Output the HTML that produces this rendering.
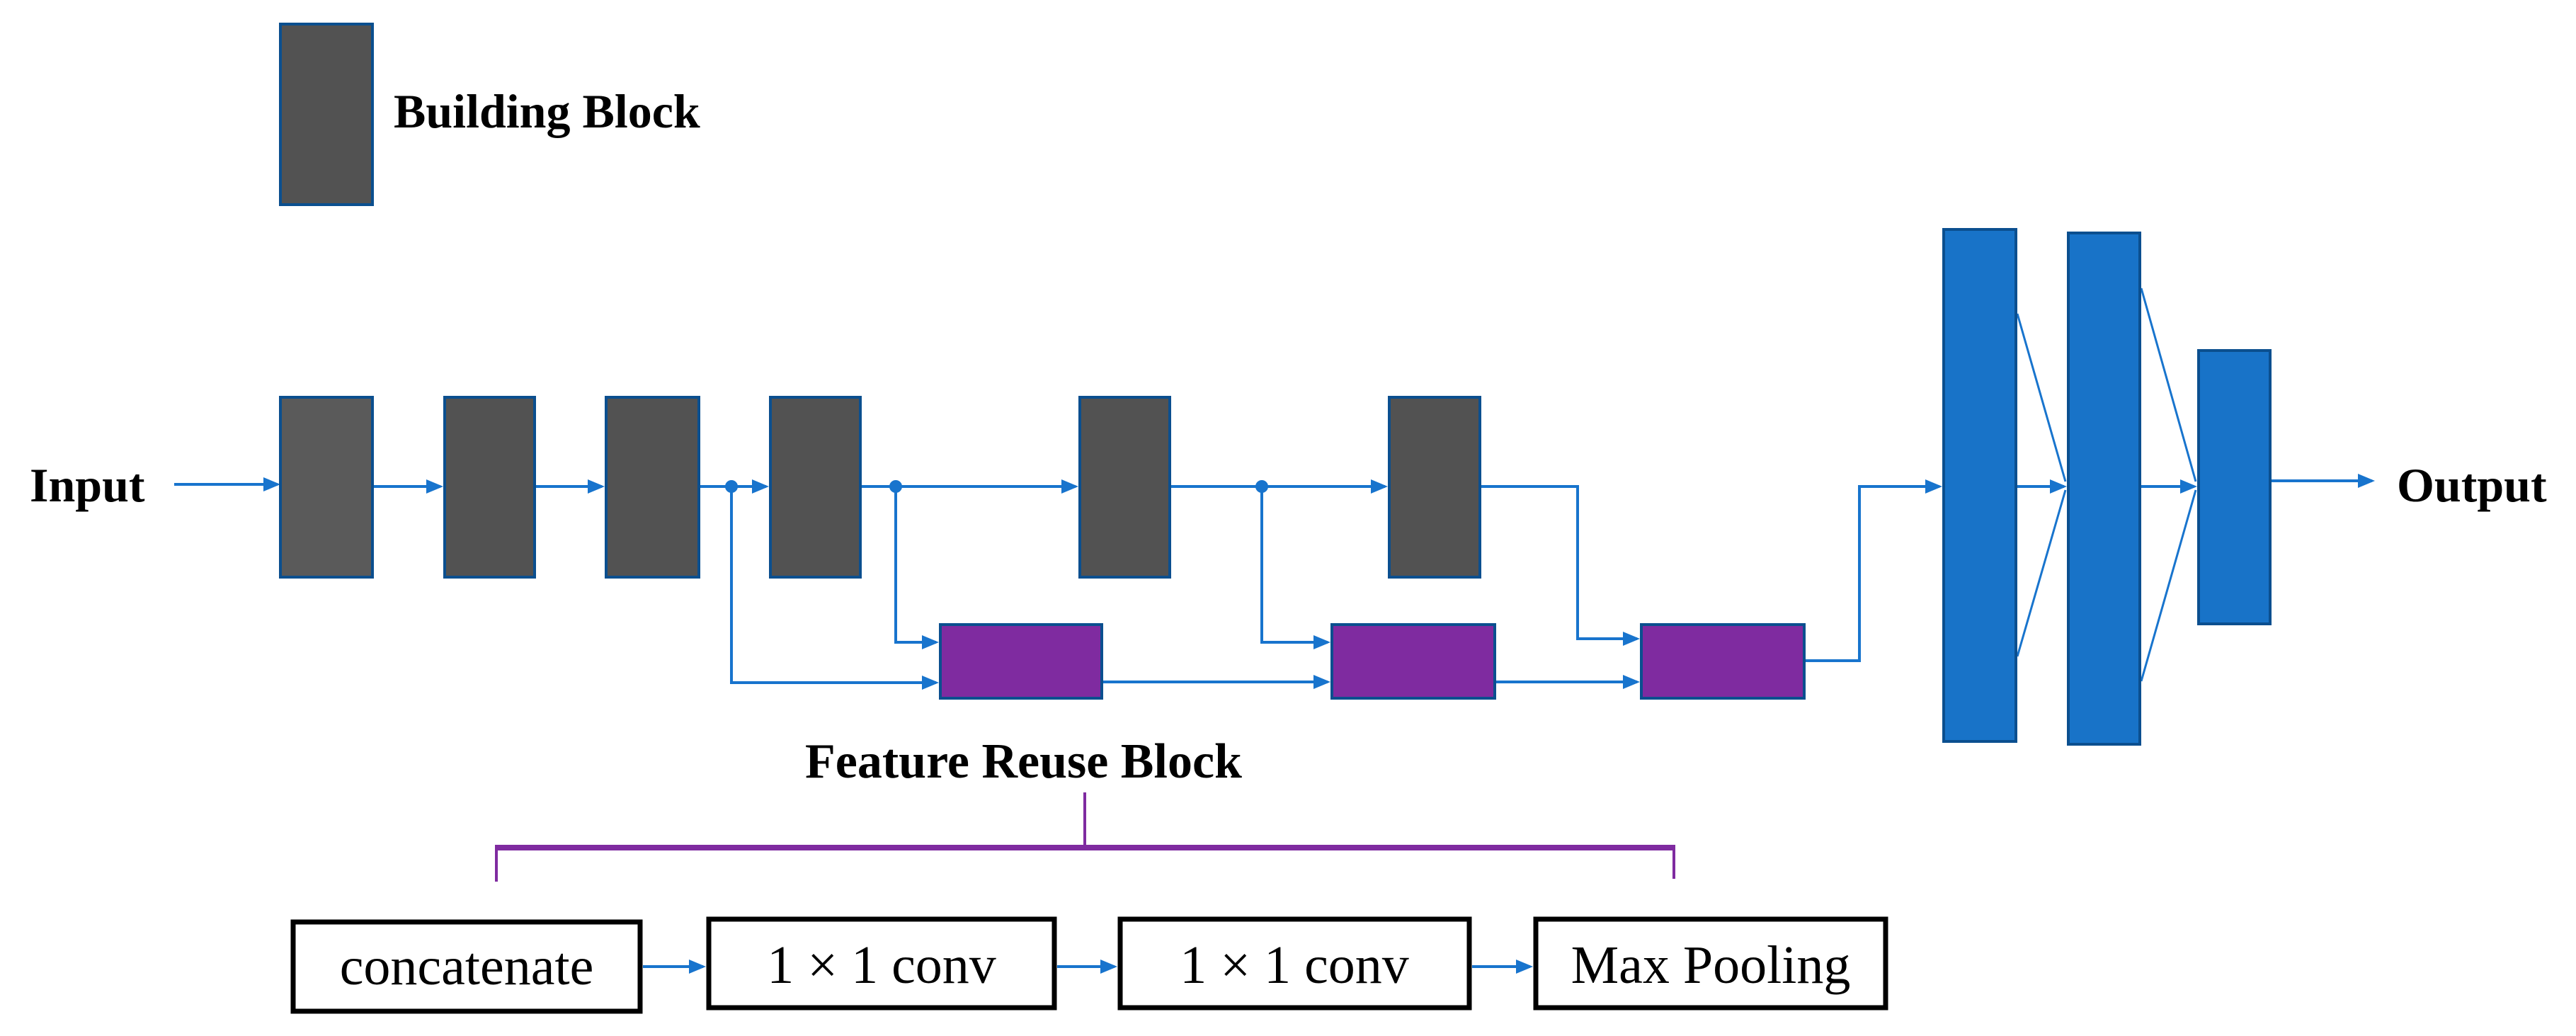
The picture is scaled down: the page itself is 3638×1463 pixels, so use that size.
<!DOCTYPE html>
<html><head><meta charset="utf-8"><style>
html,body{margin:0;padding:0;background:#fff;}
svg{display:block;}
text{font-family:"Liberation Serif",serif;fill:#000;}
</style></head><body>
<svg width="3638" height="1463" viewBox="0 0 3638 1463" xmlns="http://www.w3.org/2000/svg">
<defs>
<marker id="a" markerWidth="6" markerHeight="6" refX="5" refY="3" orient="auto" markerUnits="strokeWidth">
<path d="M0,0.5 L6,3 L0,5.5 z" fill="#1874cd"/></marker>
</defs>
<rect x="396" y="34" width="130" height="255" fill="#525252" stroke="#0b4f8f" stroke-width="4"/>
<text x="556" y="180" font-size="68" font-weight="bold">Building Block</text>

<text x="42" y="708" font-size="68" font-weight="bold">Input</text>
<text x="3385" y="708" font-size="68" font-weight="bold">Output</text>

<g stroke="#1874cd" stroke-width="4" fill="none">
<line x1="246" y1="684" x2="392" y2="684" marker-end="url(#a)"/>
<line x1="528" y1="687" x2="622" y2="687" marker-end="url(#a)"/>
<line x1="755" y1="687" x2="850" y2="687" marker-end="url(#a)"/>
<line x1="987" y1="687" x2="1082" y2="687" marker-end="url(#a)"/>
<line x1="1215" y1="687" x2="1519" y2="687" marker-end="url(#a)"/>
<line x1="1652" y1="687" x2="1956" y2="687" marker-end="url(#a)"/>
<polyline points="2090,687 2228,687 2228,902 2312,902" marker-end="url(#a)"/>
<polyline points="1033,687 1033,964 1322,964" marker-end="url(#a)"/>
<polyline points="1265,687 1265,907 1322,907" marker-end="url(#a)"/>
<polyline points="1782,687 1782,907 1875,907" marker-end="url(#a)"/>
<line x1="1556" y1="963" x2="1875" y2="963" marker-end="url(#a)"/>
<line x1="2111" y1="963" x2="2312" y2="963" marker-end="url(#a)"/>
<polyline points="2548,933 2626,933 2626,687 2739,687" marker-end="url(#a)"/>
<line x1="2847" y1="687" x2="2915" y2="687" marker-end="url(#a)"/>
<line x1="3022" y1="687" x2="3099" y2="687" marker-end="url(#a)"/>
<line x1="3206" y1="679" x2="3350" y2="679" marker-end="url(#a)"/>
</g>
<g stroke="#1874cd" stroke-width="3" fill="none">
<line x1="2849" y1="443" x2="2917" y2="680"/>
<line x1="2849" y1="927" x2="2917" y2="692"/>
<line x1="3024" y1="407" x2="3101" y2="680"/>
<line x1="3024" y1="962" x2="3101" y2="692"/>
</g>
<g fill="#1874cd">
<circle cx="1033" cy="687" r="9"/><circle cx="1265" cy="687" r="9"/><circle cx="1782" cy="687" r="9"/>
</g>
<g fill="#525252" stroke="#0b4f8f" stroke-width="4">
<rect x="396" y="561" width="130" height="254" fill="#5a5a5a"/>
<rect x="628" y="561" width="127" height="254"/>
<rect x="856" y="561" width="131" height="254"/>
<rect x="1088" y="561" width="127" height="254"/>
<rect x="1525" y="561" width="127" height="254"/>
<rect x="1962" y="561" width="128" height="254"/>
</g>
<g fill="#7f2ba0" stroke="#0b4f8f" stroke-width="4">
<rect x="1328" y="882" width="228" height="104"/>
<rect x="1881" y="882" width="230" height="104"/>
<rect x="2318" y="882" width="230" height="104"/>
</g>
<g fill="#1873c8" stroke="#0b4f8f" stroke-width="4">
<rect x="2745" y="324" width="102" height="723"/>
<rect x="2921" y="329" width="101" height="722"/>
<rect x="3105" y="495" width="101" height="386"/>
</g>

<text x="1137" y="1098" font-size="70" font-weight="bold">Feature Reuse Block</text>
<g stroke="#7f2ba0" fill="none">
<line x1="1532" y1="1119" x2="1532" y2="1200" stroke-width="4"/>
<line x1="701" y1="1197" x2="2364" y2="1197" stroke-width="8"/>
<line x1="701" y1="1193" x2="701" y2="1245" stroke-width="4"/>
<line x1="2364" y1="1193" x2="2364" y2="1241" stroke-width="4"/>
</g>

<g fill="#fff" stroke="#000" stroke-width="7">
<rect x="414" y="1302" width="490" height="126"/>
<rect x="1001" y="1298" width="488" height="125"/>
<rect x="1582" y="1298" width="493" height="125"/>
<rect x="2169" y="1298" width="494" height="125"/>
</g>
<g stroke="#1874cd" stroke-width="4">
<line x1="908" y1="1365" x2="993" y2="1365" marker-end="url(#a)"/>
<line x1="1493" y1="1365" x2="1574" y2="1365" marker-end="url(#a)"/>
<line x1="2079" y1="1365" x2="2161" y2="1365" marker-end="url(#a)"/>
</g>
<g font-size="76" text-anchor="middle">
<text x="659" y="1390">concatenate</text>
<text x="1245" y="1388">1 × 1 conv</text>
<text x="1828" y="1388">1 × 1 conv</text>
<text x="2416" y="1388">Max Pooling</text>
</g>
</svg>
</body></html>
